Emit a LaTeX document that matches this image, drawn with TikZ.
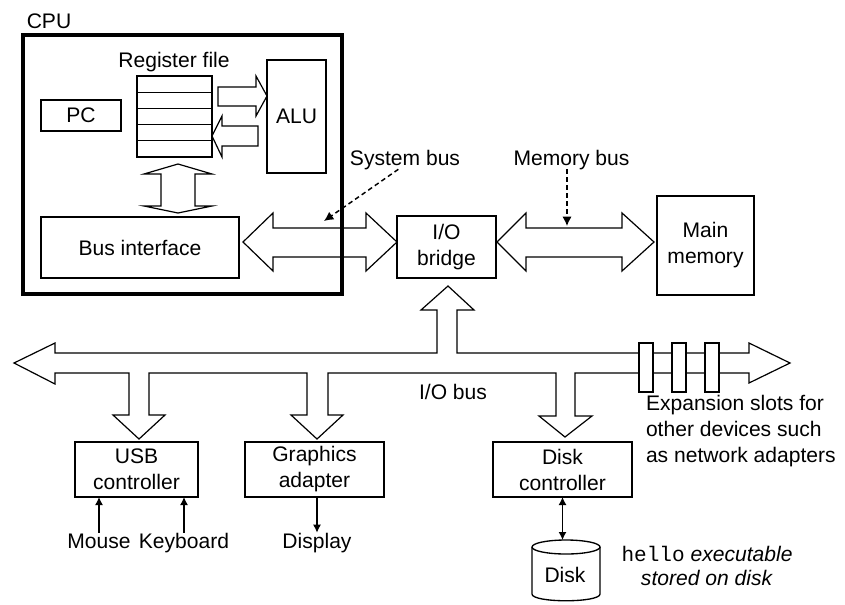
\documentclass[tikz,border=0pt]{standalone}
\usepackage{fontspec}
\setmainfont{Liberation Sans}
\setmonofont{Liberation Mono}
\usetikzlibrary{arrows.meta}

\begin{document}
\begin{tikzpicture}[x=0.75pt,y=-0.75pt,line width=1pt]
\tikzstyle{every node}=[font=\fontsize{15.8}{19.5}\selectfont,inner sep=0pt,outer sep=0pt];
\tikzstyle{box}=[draw,align=center];
\tikzstyle{lbl}=[text height=11.5pt,text depth=3.2pt];
\tikzstyle{regcell}=[draw,minimum width=56.25pt,minimum height=12.15pt];
\tikzstyle{slot}=[draw,fill=white,minimum width=10.5pt,minimum height=36.75pt];
\tikzstyle{fat}=[line width=0.9pt,line join=miter];
\tikzstyle{ptr}=[dash pattern=on 3.5pt off 2.5pt,line width=1.1pt,-{Latex[length=7pt,width=7pt]}];
\tikzstyle{sig}=[line width=1pt,-{Latex[length=6pt,width=6pt]}];

\useasboundingbox (0,0) rectangle (845,604);

\node[lbl] (cpulbl) at (49,22.5) {CPU};
\node[draw,line width=2.6pt,minimum width=239.25pt,minimum height=194.25pt] (cpu) at (182.5,164.5) {};

\node[lbl] (reglbl) at (174,61.5) {Register file};
\foreach \i in {0,...,4}
	\node[regcell] (reg\i) at (174.5,84.1+16.2*\i) {};
\node[box,minimum width=60pt,minimum height=23.25pt] (pc) at (81,115.5) {PC};
\node[box,minimum width=44.25pt,minimum height=84.75pt] (alu) at (296.5,116.5) {ALU};
\node[box,minimum width=148.5pt,minimum height=45.75pt] (busif) at (140,247.5) {Bus interface};

\draw[fat] (218,87) -- (256,87) -- (256,76) -- (267,96) -- (256,116) -- (256,106) -- (218,106) -- cycle;
\draw[fat] (258,126) -- (258,146) -- (222,146) -- (222,157) -- (212,136) -- (222,116) -- (222,126) -- cycle;
\draw[fat] (178,164) -- (212,174) -- (195,174) -- (195,206) -- (212,206) -- (178,213)
	-- (144,206) -- (161,206) -- (161,174) -- (144,174) -- cycle;

\node[box,minimum width=74.25pt,minimum height=46.5pt] (bridge) at (446.5,247) {I/O\\bridge};
\node[box,minimum width=72.75pt,minimum height=74.25pt] (mem) at (705.5,245.5) {Main\\memory};

\draw[fat] (243,242) -- (273,213) -- (273,228) -- (366,228) -- (366,213) -- (397,242)
	-- (366,271) -- (366,257) -- (273,257) -- (273,271) -- cycle;
\draw[fat] (497,242) -- (526,213) -- (526,228) -- (622,228) -- (622,213) -- (654,242)
	-- (622,271) -- (622,257) -- (526,257) -- (526,271) -- cycle;

\node[lbl] (sbuslbl) at (405,159.5) {System bus};
\node[lbl] (mbuslbl) at (571.5,159.5) {Memory bus};
\coordinate (sbusptr) at (324,221);
\coordinate (mbusptr) at (567,226);
\draw[ptr] ([xshift=-5pt]sbuslbl.south) -- (sbusptr);
\draw[ptr] (mbuslbl.south -| mbusptr) -- (mbusptr);

\draw[fat] (14,363) -- (55,343) -- (55,353) -- (437,353) -- (437,310) -- (421,310) -- (448,286)
	-- (474,310) -- (457,310) -- (457,353) -- (749,353) -- (749,343) -- (790,363) -- (749,383)
	-- (749,373) -- (575,373) -- (575,416) -- (592,416) -- (565,437) -- (539,416) -- (556,416)
	-- (556,373) -- (328,373) -- (328,415) -- (343,415) -- (317,439) -- (291,415) -- (307,415)
	-- (307,373) -- (149,373) -- (149,415) -- (165,415) -- (139,439) -- (113,415) -- (129,415)
	-- (129,373) -- (55,373) -- (55,384) -- cycle;
\foreach \x [count=\n] in {646,679,712}
	\node[slot] (slot\n) at (\x,367.5) {};

\node[lbl] (iobuslbl) at (453,393.5) {I/O bus};
\node[align=left,anchor=north west] (explbl) at (646,395) {Expansion slots for\\other devices such\\as network adapters};

\node[box,minimum width=92.25pt,minimum height=41.25pt] (usb) at (136.5,469.5) {USB\\controller};
\node[box,minimum width=104.25pt,minimum height=41.25pt] (gfx) at (314.5,469.5) {Graphics\\adapter};
\node[box,minimum width=104.25pt,minimum height=41.25pt] (dctrl) at (562.5,469.5) {Disk\\controller};

\node[lbl] (mouse) at (99,542.5) {Mouse};
\node[lbl] (kbd) at (184,542.5) {Keyboard};
\node[lbl] (disp) at (317,542.5) {Display};
\draw[sig] (mouse.north) -- (mouse.north |- usb.south);
\draw[sig] (kbd.north) -- (kbd.north |- usb.south);
\draw[sig] (gfx.south -| disp) -- (disp.north);

\node (disk) at (565,575) {Disk};
\draw (532,547) -- (532,594) .. controls (532,603) and (600,603) .. (600,594) -- (600,547);
\draw (566,547) ellipse [x radius=34,y radius=7];
\coordinate (disktop) at (562.5,540);
\draw[sig,{Latex[length=6pt,width=6pt]}-{Latex[length=6pt,width=6pt]}] (dctrl.south) -- (disktop);

\node[align=center,anchor=north,font=\fontsize{15.8}{18}\selectfont] (hellolbl) at (707,546.5) {\texttt{hello} \textit{executable}\\\textit{stored on disk}};
\end{tikzpicture}
\end{document}
